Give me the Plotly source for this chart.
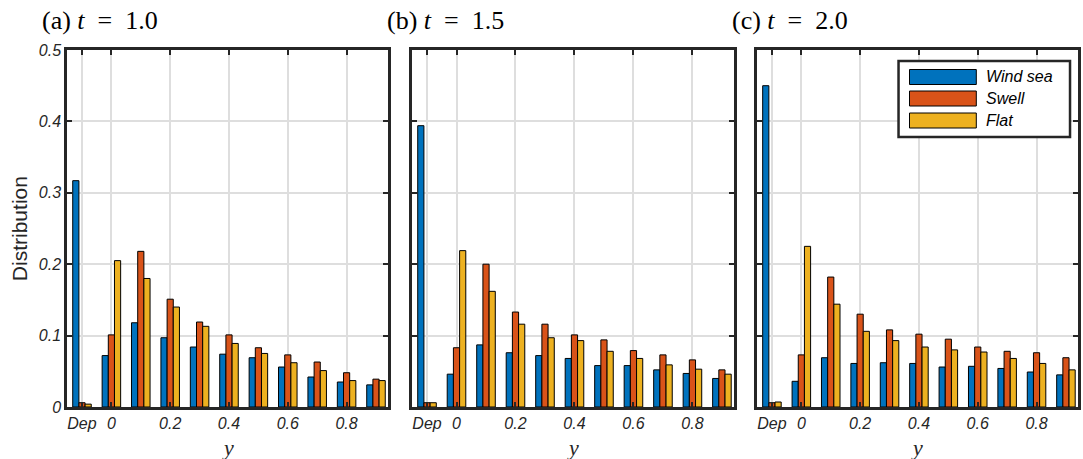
import plotly.graph_objects as go

# Bin labels: "Dep" (departure) followed by the y-bins
bins = ["Dep", "0", "0.1", "0.2", "0.3", "0.4", "0.5", "0.6", "0.7", "0.8", "0.9"]
tick_labels = ["Dep", "0", "0.2", "0.4", "0.6", "0.8"]
y_ticks = [0, 0.1, 0.2, 0.3, 0.4, 0.5]
y_tick_labels = ["0", "0.1", "0.2", "0.3", "0.4", "0.5"]

series_names = ["Wind sea", "Swell", "Flat"]
series_colors = ["#0072BD", "#D95319", "#EDB120"]

panel_titles = [
    "(a) <i>t</i>&nbsp;&nbsp;=&nbsp;&nbsp;1.0",
    "(b) <i>t</i>&nbsp;&nbsp;=&nbsp;&nbsp;1.5",
    "(c) <i>t</i>&nbsp;&nbsp;=&nbsp;&nbsp;2.0",
]

# t = 1.0
wind_sea_t10 = [0.317, 0.072, 0.118, 0.097, 0.084, 0.074, 0.069, 0.056, 0.042, 0.035, 0.031]
swell_t10 = [0.006, 0.101, 0.218, 0.151, 0.119, 0.101, 0.083, 0.073, 0.063, 0.048, 0.039]
flat_t10 = [0.004, 0.205, 0.180, 0.140, 0.113, 0.089, 0.075, 0.062, 0.051, 0.037, 0.037]

# t = 1.5
wind_sea_t15 = [0.394, 0.046, 0.087, 0.076, 0.072, 0.068, 0.058, 0.058, 0.052, 0.047, 0.040]
swell_t15 = [0.006, 0.083, 0.200, 0.133, 0.116, 0.101, 0.094, 0.079, 0.073, 0.066, 0.052]
flat_t15 = [0.006, 0.219, 0.162, 0.116, 0.097, 0.093, 0.078, 0.068, 0.059, 0.053, 0.046]

# t = 2.0
wind_sea_t20 = [0.450, 0.036, 0.069, 0.061, 0.062, 0.061, 0.056, 0.057, 0.054, 0.049, 0.045]
swell_t20 = [0.006, 0.073, 0.182, 0.130, 0.108, 0.102, 0.095, 0.084, 0.078, 0.076, 0.069]
flat_t20 = [0.007, 0.225, 0.144, 0.106, 0.093, 0.084, 0.080, 0.077, 0.068, 0.061, 0.052]

panels = [
    [wind_sea_t10, swell_t10, flat_t10],
    [wind_sea_t15, swell_t15, flat_t15],
    [wind_sea_t20, swell_t20, flat_t20],
]

# Page geometry (pixels)
W, H = 1083, 459
M_L, M_R, M_T, M_B = 67, 2, 50, 52
PLOT_W = W - M_L - M_R
PLOT_H = H - M_T - M_B
panel_px = [(67, 389), (413, 736), (759, 1081)]


def px_x(px):
    return (px - M_L) / PLOT_W


def px_y(py):
    return (H - M_B - py) / PLOT_H


AXIS_COLOR = "#262626"
GRID_COLOR = "#dedede"
SANS = "Liberation Sans"
SERIF = "Liberation Serif"

fig = go.Figure()

for p, data in enumerate(panels):
    suffix = "" if p == 0 else str(p + 1)
    for name, color, vals in zip(series_names, series_colors, data):
        fig.add_trace(go.Bar(
            x=bins, y=vals, name=name,
            xaxis="x" + suffix, yaxis="y" + suffix,
            marker=dict(color=color, line=dict(color="black", width=1)),
            showlegend=False,
        ))

layout = dict(
    width=W, height=H,
    margin=dict(l=M_L, r=M_R, t=M_T, b=M_B, pad=0),
    paper_bgcolor="white", plot_bgcolor="white",
    barmode="group", bargap=0.37, bargroupgap=0,
    showlegend=False,
)

annotations = []
for p in range(3):
    suffix = "" if p == 0 else str(p + 1)
    x0, x1 = panel_px[p]
    layout["xaxis" + suffix] = dict(
        domain=[px_x(x0), px_x(x1)],
        anchor="y" + suffix,
        type="category",
        categoryorder="array", categoryarray=bins,
        range=[-0.51, 10.41],
        tickmode="array", tickvals=tick_labels, ticktext=tick_labels,
        ticks="inside", ticklen=5, tickwidth=2, tickcolor=AXIS_COLOR,
        showline=True, linecolor=AXIS_COLOR, linewidth=2.5, mirror="ticks",
        showgrid=True, gridcolor=GRID_COLOR, gridwidth=2,
        tickfont=dict(family=SANS, size=16, color=AXIS_COLOR, style="italic"),
        zeroline=False, fixedrange=True,
    )
    layout["yaxis" + suffix] = dict(
        domain=[0, 1],
        anchor="x" + suffix,
        range=[0, 0.5],
        tickmode="array", tickvals=y_ticks, ticktext=y_tick_labels,
        showticklabels=(p == 0),
        ticks="inside", ticklen=5, tickwidth=2, tickcolor=AXIS_COLOR,
        showline=True, linecolor=AXIS_COLOR, linewidth=2.5, mirror="ticks",
        showgrid=True, gridcolor=GRID_COLOR, gridwidth=2,
        tickfont=dict(family=SANS, size=16, color=AXIS_COLOR, style="italic"),
        zeroline=False, fixedrange=True,
    )
    # panel title
    annotations.append(dict(
        text=panel_titles[p], xref="paper", yref="paper",
        x=px_x(x0 - 27), y=px_y(20), xanchor="left", yanchor="middle",
        showarrow=False, font=dict(family=SERIF, size=26, color="black"),
    ))
    # x-axis title
    annotations.append(dict(
        text="<i>y</i>", xref="paper", yref="paper",
        x=px_x((x0 + x1) / 2), y=px_y(447), xanchor="center", yanchor="middle",
        showarrow=False, font=dict(family=SERIF, size=22, color=AXIS_COLOR),
    ))

# y-axis title
annotations.append(dict(
    text="Distribution", xref="paper", yref="paper",
    x=px_x(19), y=px_y(229), xanchor="center", yanchor="middle", textangle=-90,
    showarrow=False, font=dict(family=SANS, size=21, color=AXIS_COLOR),
))

# legend drawn inside panel (c)
shapes = []
box = (901, 61, 1073, 137)
shapes.append(dict(
    type="rect", xref="paper", yref="paper", layer="above",
    x0=px_x(box[0]), x1=px_x(box[2]), y0=px_y(box[3]), y1=px_y(box[1]),
    fillcolor="white", line=dict(color=AXIS_COLOR, width=2.5),
))
row_centers = [77, 98.5, 120.5]
for name, color, yc in zip(series_names, series_colors, row_centers):
    shapes.append(dict(
        type="rect", xref="paper", yref="paper", layer="above",
        x0=px_x(912), x1=px_x(979), y0=px_y(yc + 7.5), y1=px_y(yc - 7.5),
        fillcolor=color, line=dict(color="black", width=1),
    ))
    annotations.append(dict(
        text=name, xref="paper", yref="paper",
        x=px_x(987), y=px_y(yc), xanchor="left", yanchor="middle",
        showarrow=False,
        font=dict(family=SANS, size=16, color="black", style="italic"),
    ))

layout["annotations"] = annotations
layout["shapes"] = shapes
fig.update_layout(**layout)

fig.write_html("out.html")
